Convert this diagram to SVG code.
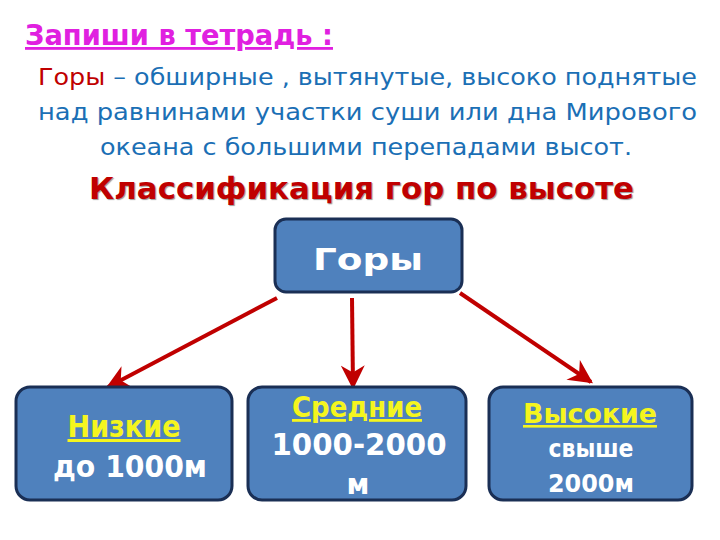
<svg xmlns="http://www.w3.org/2000/svg" width="720" height="540" viewBox="0 0 720 540">
<defs>
<style>
text{font-family:"DejaVu Sans","Noto Sans",sans-serif}
.para{font-size:23px;fill:#1b6fb5}
.node rect{fill:#4f81bd;stroke:#1a2f55;stroke-width:3}
.w{fill:#fff;font-weight:bold;text-anchor:middle}
.y{fill:#f5f51e;font-weight:bold;text-anchor:middle;text-decoration:underline}
.conn line{stroke:#c00000;stroke-width:4}
</style>
<marker id="ah" viewBox="0 0 10 10" refX="9" refY="5" markerWidth="6.5" markerHeight="6" orient="auto">
<path d="M0,0 L10,5 L0,10 L3,5 Z" fill="#c00000"/>
</marker>
</defs>
<rect width="720" height="540" fill="#fff"/>
<text x="25" y="45" font-size="28" font-weight="bold" fill="#e020e0" text-decoration="underline" textLength="308" lengthAdjust="spacingAndGlyphs">Запиши в тетрадь :</text>
<text class="para" x="38" y="85" textLength="659" lengthAdjust="spacingAndGlyphs"><tspan fill="#c00000">Горы</tspan> – обширные , вытянутые, высоко поднятые</text>
<text class="para" x="38" y="120" textLength="659" lengthAdjust="spacingAndGlyphs">над  равнинами участки суши или дна Мирового</text>
<text class="para" x="100" y="155" textLength="532" lengthAdjust="spacingAndGlyphs">океана с большими перепадами высот.</text>
<text x="89" y="199" font-size="31" font-weight="bold" fill="#c00000" textLength="545" lengthAdjust="spacingAndGlyphs" style="text-shadow:1px 1px 1px #999">Классификация гор по высоте</text>
<g class="conn">
<line x1="277" y1="298" x2="108" y2="387" marker-end="url(#ah)"/>
<line x1="352" y1="298" x2="353" y2="387" marker-end="url(#ah)"/>
<line x1="460" y1="293" x2="591" y2="382" marker-end="url(#ah)"/>
</g>
<g class="node" id="gory">
<rect x="275" y="219" width="187" height="73" rx="11"/>
<text class="w" x="368" y="270" style="font-size:31px" textLength="110" lengthAdjust="spacingAndGlyphs">Горы</text>
</g>
<g class="node" id="nizkie">
<rect x="16" y="387" width="216" height="113" rx="14"/>
<text class="y" x="124" y="437" style="font-size:30px" textLength="113" lengthAdjust="spacingAndGlyphs">Низкие</text>
<text class="w" x="130" y="477" style="font-size:30px" textLength="154" lengthAdjust="spacingAndGlyphs">до 1000м</text>
</g>
<g class="node" id="srednie">
<rect x="248" y="387" width="218" height="113" rx="14"/>
<text class="y" x="357" y="417" style="font-size:28px" textLength="130" lengthAdjust="spacingAndGlyphs">Средние</text>
<text class="w" x="359" y="455" style="font-size:30px" textLength="175" lengthAdjust="spacingAndGlyphs">1000-2000</text>
<text class="w" x="358" y="494" style="font-size:28px">м</text>
</g>
<g class="node" id="vysokie">
<rect x="489" y="387" width="203" height="113" rx="14"/>
<text class="y" x="590" y="423" style="font-size:26px" textLength="134" lengthAdjust="spacingAndGlyphs">Высокие</text>
<text class="w" x="591" y="457" style="font-size:24px" textLength="85" lengthAdjust="spacingAndGlyphs">свыше</text>
<text class="w" x="591" y="492" style="font-size:25px" textLength="86" lengthAdjust="spacingAndGlyphs">2000м</text>
</g>
</svg>
